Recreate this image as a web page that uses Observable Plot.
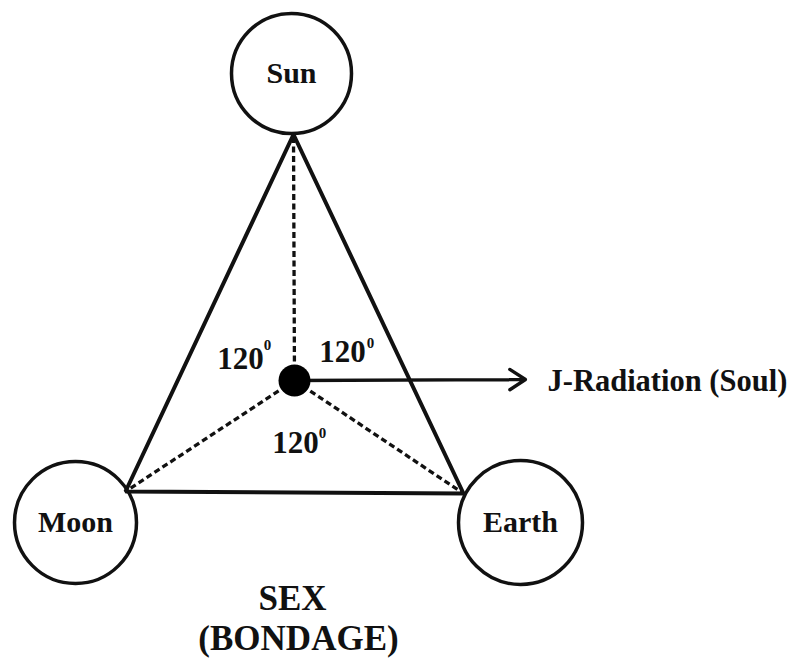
<!DOCTYPE html>
<html>
<head>
<meta charset="utf-8">
<script src="https://cdn.jsdelivr.net/npm/d3@7"></script>
<script src="https://cdn.jsdelivr.net/npm/@observablehq/plot@0.6"></script>
<style>
  html, body { margin: 0; padding: 0; background: #fff; }
  #chart svg { display: block; }
</style>
</head>
<body>
<div id="chart"></div>
<script>
// ---- Data ----
const bodies = ["Sun", "Moon", "Earth"];
const bodyX = [291, 75, 520];
const bodyY = [73, 522, 522];
const bodyR = [60, 61, 62];
// triangle vertices (where the triangle touches each body)
const vertexX = [293, 125, 463];
const vertexY = [134, 491, 493];
// the soul point (centre of the triangle)
const hubX = [294];
const hubY = [380];
// angle labels
const angleText = ["120", "120", "120"];
const angleX = [240, 342, 295];
const angleY = [359, 352, 443];
const degreeText = ["0", "0", "0"];
const degreeX = [267, 370, 322];
const degreeY = [345, 343, 433];
// radiation arrow
const arrowEndX = [525];
const arrowEndY = [379];
const arrowLabel = ["J-Radiation (Soul)"];
const arrowLabelX = [547];
const arrowLabelY = [381];
// caption
const captionLines = ["SEX", "(BONDAGE)"];
const captionX = [292, 298];
const captionY = [598, 638];

// ---- Build tables ----
const bodyData = bodies.map((name, i) => ({name, x: bodyX[i], y: bodyY[i], r: bodyR[i]}));
const tri = [0, 1, 2, 0].map(i => ({x: vertexX[i], y: vertexY[i]}));
const spokes = vertexX.map((vx, i) => ({x1: hubX[0], y1: hubY[0], x2: vx, y2: vertexY[i]}));
const angles = angleText.map((t, i) => ({t, x: angleX[i], y: angleY[i]}));
const degrees = degreeText.map((t, i) => ({t, x: degreeX[i], y: degreeY[i]}));
const arrow = [{x1: hubX[0], y1: hubY[0], x2: arrowEndX[0], y2: arrowEndY[0]}];
const hub = [{x: hubX[0], y: hubY[0]}];
const arrowLbl = [{t: arrowLabel[0], x: arrowLabelX[0], y: arrowLabelY[0]}];
const caption = captionLines.map((t, i) => ({t, x: captionX[i], y: captionY[i]}));

const font = "'Liberation Serif', 'Times New Roman', serif";

const chart = Plot.plot({
  width: 795,
  height: 662,
  margin: 0,
  x: {domain: [0, 795], range: [0, 795], axis: null},
  y: {domain: [0, 662], range: [0, 662], axis: null},
  r: {type: "identity"},
  style: {background: "#fff"},
  marks: [
    Plot.link(spokes, {x1: "x1", y1: "y1", x2: "x2", y2: "y2",
      stroke: "#111", strokeWidth: 3.3, strokeDasharray: "6,3.5"}),
    Plot.line(tri, {x: "x", y: "y", stroke: "#111", strokeWidth: 4,
      strokeLinejoin: "miter"}),
    Plot.arrow(arrow, {x1: "x1", y1: "y1", x2: "x2", y2: "y2",
      stroke: "#111", strokeWidth: 3.3, headLength: 8.5, headAngle: 66}),
    Plot.dot(bodyData, {x: "x", y: "y", r: "r", fill: "none",
      stroke: "#111", strokeWidth: 3.5}),
    Plot.dot(hub, {x: "x", y: "y", r: 16, fill: "#000", stroke: "none"}),
    Plot.text(bodyData, {x: "x", y: "y", text: "name", fontFamily: font,
      fontWeight: "bold", fontSize: 30, fill: "#111", lineAnchor: "middle"}),
    Plot.text(angles, {x: "x", y: "y", text: "t", fontFamily: font,
      fontWeight: "bold", fontSize: 31, fill: "#111", lineAnchor: "middle"}),
    Plot.text(degrees, {x: "x", y: "y", text: "t", fontFamily: font,
      fontWeight: "bold", fontSize: 15, fill: "#111", lineAnchor: "middle"}),
    Plot.text(arrowLbl, {x: "x", y: "y", text: "t", fontFamily: font,
      fontWeight: "bold", fontSize: 30.5, fill: "#111", textAnchor: "start",
      lineAnchor: "middle"}),
    Plot.text(caption, {x: "x", y: "y", text: "t", fontFamily: font,
      fontWeight: "bold", fontSize: 35, fill: "#111", lineAnchor: "middle"})
  ]
});
document.getElementById("chart").appendChild(chart);
</script>
</body>
</html>
